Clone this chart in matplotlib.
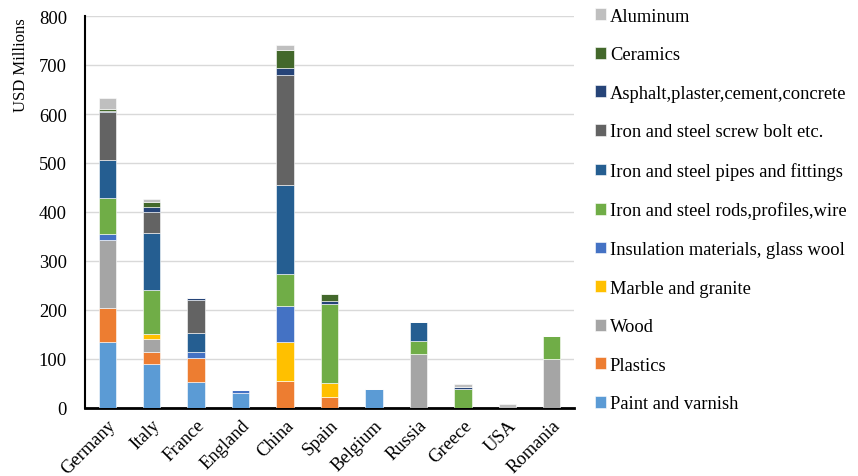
import matplotlib
matplotlib.use("Agg")
import matplotlib.pyplot as plt
import numpy as np

plt.rcParams['font.family'] = ['Liberation Serif', 'DejaVu Serif']

countries = ["Germany", "Italy", "France", "England", "China", "Spain",
             "Belgium", "Russia", "Greece", "USA", "Romania"]

# Values in USD millions, stacked bottom to top
paint_varnish = [134, 89, 54, 31, 0, 0, 39, 0, 0, 0, 0]
plastics      = [71, 26, 49, 0, 56, 22, 0, 0, 0, 0, 0]
wood          = [138, 25, 0, 0, 0, 0, 0, 111, 0, 0, 99]
marble        = [0, 11, 0, 0, 79, 29, 0, 0, 0, 0, 0]
insulation    = [12, 0, 12, 6, 74, 0, 0, 0, 0, 0, 0]
rods_profiles = [74, 89, 0, 0, 64, 162, 0, 25, 39, 0, 48]
pipes         = [78, 118, 39, 0, 182, 0, 0, 39, 0, 0, 0]
screw_bolt    = [97, 43, 67, 0, 224, 0, 0, 0, 0, 0, 0]
asphalt       = [2, 9, 3, 0, 14, 5, 0, 0, 4, 0, 0]
ceramics      = [4, 11, 0, 0, 37, 14, 0, 0, 0, 0, 0]
aluminum      = [22, 5, 0, 0, 11, 0, 0, 0, 6, 8, 0]

series = [
    ("Paint and varnish", paint_varnish, "#5B9BD5"),
    ("Plastics", plastics, "#ED7D31"),
    ("Wood", wood, "#A5A5A5"),
    ("Marble and granite", marble, "#FFC000"),
    ("Insulation materials, glass wool", insulation, "#4472C4"),
    ("Iron and steel rods,profiles,wire", rods_profiles, "#70AD47"),
    ("Iron and steel pipes and fittings", pipes, "#255E91"),
    ("Iron and steel screw bolt etc.", screw_bolt, "#636363"),
    ("Asphalt,plaster,cement,concrete", asphalt, "#264478"),
    ("Ceramics", ceramics, "#43682B"),
    ("Aluminum", aluminum, "#BFBFBF"),
]

FS = 13.3

fig = plt.figure(figsize=(8.58, 4.77), dpi=100)
ax = fig.add_axes([85 / 858, 1 - 409 / 477, (574 - 85) / 858, (409 - 17) / 477])

x = np.arange(len(countries))
bottom = np.zeros(len(countries))
for label, vals, color in series:
    vals = np.array(vals, dtype=float)
    ax.bar(x, vals, 0.39, bottom=bottom, color=color, label=label,
           edgecolor="white", linewidth=0.4, zorder=3)
    bottom += vals

ax.set_xlim(-0.5, len(countries) - 0.5)
ax.set_ylim(0, 800)
ax.set_yticks(np.arange(0, 801, 100))
ax.yaxis.grid(True, color="#D9D9D9", linewidth=1.0, zorder=0)
ax.set_axisbelow(True)

ax.set_xticks(x)
ax.set_xticklabels(countries, rotation=45, ha="right", rotation_mode="anchor",
                   fontsize=FS)
ax.tick_params(axis="both", length=0, labelsize=FS)
ax.tick_params(axis="x", pad=6)
ax.tick_params(axis="y", pad=13)

for side in ("top", "right"):
    ax.spines[side].set_visible(False)
ax.spines["left"].set_color("black")
ax.spines["left"].set_linewidth(1.5)
ax.spines["bottom"].set_color("black")
ax.spines["bottom"].set_linewidth(2.0)

fig.text(21 / 858, 1 - 65 / 477, "USD Millions", rotation=90,
         ha="center", va="center", fontsize=12)

handles, labels = ax.get_legend_handles_labels()
fig.legend(handles[::-1], labels[::-1], loc="center left",
           bbox_to_anchor=(595 / 858, 1 - 211 / 477), frameon=False,
           fontsize=FS, handlelength=0.6, handleheight=0.6,
           handletextpad=0.2, labelspacing=1.17, borderaxespad=0,
           borderpad=0)

fig.savefig("out.png", dpi=100)
